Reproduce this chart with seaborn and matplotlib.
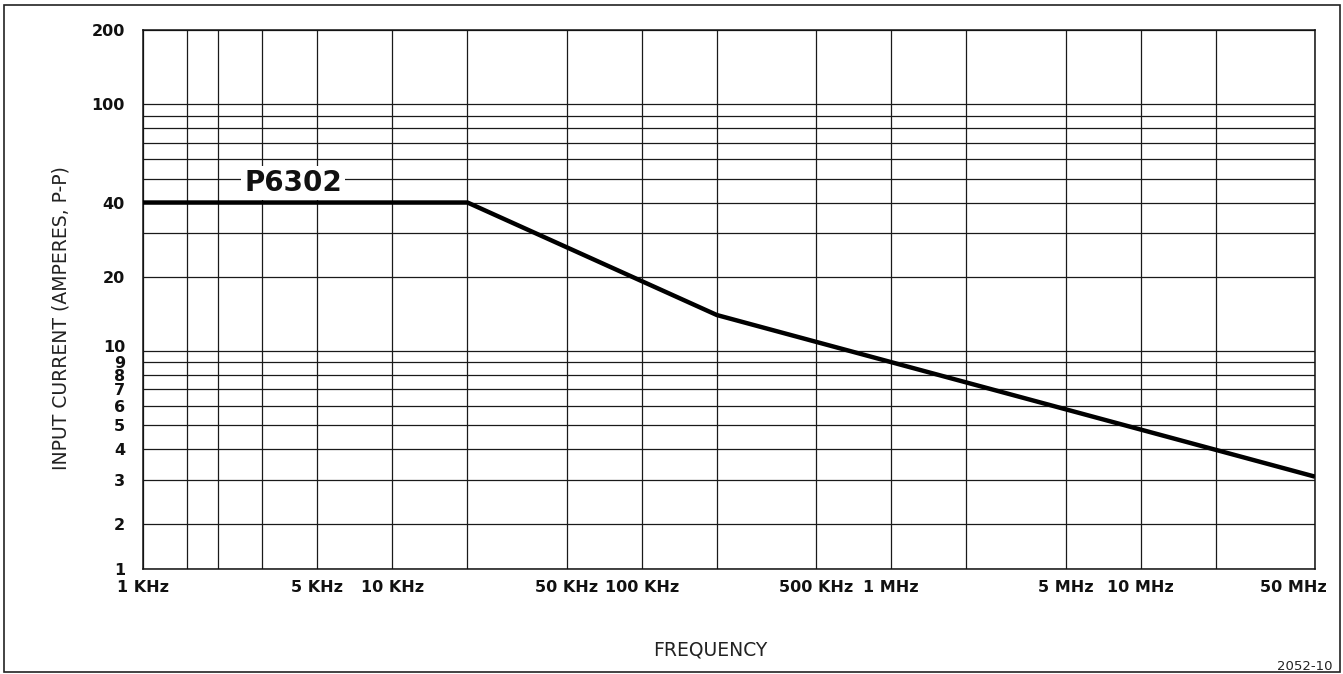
import numpy as np
import pandas as pd
import matplotlib
matplotlib.use("Agg")
import matplotlib.pyplot as plt
import seaborn as sns
from matplotlib.patches import Rectangle
from matplotlib.transforms import ScaledTranslation
from matplotlib.ticker import NullFormatter

# ---- data ----
freq_hz = [1e3, 2e4, 2e5, 5e7]
current_app = [40, 40, 14, 3.1]
series_name = "P6302"

x_label_ticks = [1e3, 5e3, 1e4, 5e4, 1e5, 5e5, 1e6, 5e6, 1e7, 5e7]
x_label_text = ["1 KHz", "5 KHz", "10 KHz", "50 KHz", "100 KHz",
                "500 KHz", "1 MHz", "5 MHz", "10 MHz", "50 MHz"]
x_extra_grid = [1.5e3, 2e3, 3e3, 2e4, 2e5, 2e6, 2e7]

y_bottom = 1.31          # lower edge of the printed grid (labelled "1")
y_top = 200
y_label_ticks = [y_bottom, 2, 3, 4, 5, 6, 7, 8, 9, 10, 20, 40, 100, 200]
y_label_text = ["1", "2", "3", "4", "5", "6", "7", "8", "9", "10", "20", "40", "100", "200"]
y_extra_grid = [30, 50, 60, 70, 80, 90]

df = pd.DataFrame({"freq": freq_hz, "current": current_app})

sns.set_theme(style="white")
plt.rcParams["font.family"] = ["DejaVu Sans"]

fig = plt.figure(figsize=(13.43, 6.74), dpi=100)
ax = fig.add_axes([143 / 1343, 1 - 569 / 674, (1315 - 143) / 1343, (569 - 30) / 674])

sns.lineplot(data=df, x="freq", y="current", ax=ax, color="black",
             linewidth=3.2, solid_capstyle="butt", zorder=6)

ax.set_xscale("log")
ax.set_yscale("log")
ax.set_xlim(freq_hz[0], 5e7)
ax.set_ylim(y_bottom, y_top)

ax.set_xticks(x_label_ticks)
ax.set_xticklabels(x_label_text)
ax.set_xticks(x_extra_grid, minor=True)
ax.set_yticks(y_label_ticks)
ax.set_yticklabels(y_label_text)
ax.set_yticks(y_extra_grid, minor=True)
ax.xaxis.set_minor_formatter(NullFormatter())
ax.yaxis.set_minor_formatter(NullFormatter())
ax.tick_params(axis="both", which="both", length=0)
ax.tick_params(axis="x", which="major", pad=8, labelsize=11.5, labelcolor="#111111")
ax.tick_params(axis="y", which="major", pad=13, labelsize=11.5, labelcolor="#111111")
for lab in ax.get_xticklabels() + ax.get_yticklabels():
    lab.set_fontweight("bold")

# last x label kept inside the frame
last = ax.get_xticklabels()[-1]
last.set_horizontalalignment("right")
last.set_transform(last.get_transform() + ScaledTranslation(12 / 100, 0, fig.dpi_scale_trans))
# "10" sits a little above its line, as printed
ten = ax.get_yticklabels()[y_label_text.index("10")]
ten.set_transform(ten.get_transform() + ScaledTranslation(0, 5 / 100, fig.dpi_scale_trans))

ax.grid(True, which="both", color="#1a1a1a", linewidth=0.9)
ax.set_axisbelow(True)
for sp in ax.spines.values():
    sp.set_visible(True)
    sp.set_color("#111111")
    sp.set_linewidth(1.1)

ax.set_xlabel("FREQUENCY", fontsize=13.5, color="#222222")
ax.set_ylabel("INPUT CURRENT (AMPERES, P-P)", fontsize=13.5, color="#222222")
ax.xaxis.set_label_coords((710 - 143) / 1172, (569 - 640) / 539)
ax.yaxis.set_label_coords((71 - 143) / 1172, (569 - 318) / 539)

ax.text(4.0e3, 48, series_name, fontsize=20, fontweight="bold", ha="center", va="center",
        color="#111111", zorder=5,
        bbox=dict(facecolor="white", edgecolor="none", pad=2.5))

fig.patches.append(Rectangle((4 / 1343, 2 / 674), (1340 - 4) / 1343, (669 - 2) / 674,
                             transform=fig.transFigure, fill=False,
                             edgecolor="#222222", linewidth=1.2))
fig.text(1333 / 1343, 1 - 666 / 674, "2052-10", ha="right", va="center",
         fontsize=9.5, color="#222222")

fig.savefig("out.png", dpi=100, facecolor="white")
